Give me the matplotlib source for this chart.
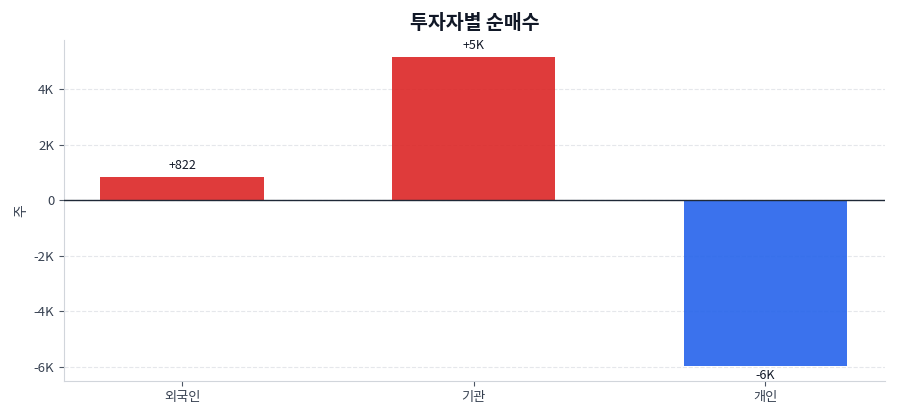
import matplotlib
matplotlib.use("Agg")
import matplotlib.pyplot as plt
from matplotlib.ticker import FuncFormatter

plt.rcParams['font.family'] = ['Noto Sans CJK KR', 'DejaVu Sans']

investors = ['외국인', '기관', '개인']
net_buy = [822, 5150, -5990]
bar_labels = ['+822', '+5K', '-6K']


def kfmt(v, pos):
    if v == 0:
        return '0'
    return '%dK' % round(v / 1000)


fig = plt.figure(figsize=(9, 4.2), dpi=100)
ax = fig.add_axes([0.071, 0.093, 0.912, 0.812])

colors = ['#dc2626' if v >= 0 else '#2563eb' for v in net_buy]
bars = ax.bar(range(len(investors)), net_buy, width=0.56, color=colors,
              alpha=0.9, zorder=3)

for b, v, lab in zip(bars, net_buy, bar_labels):
    x = b.get_x() + b.get_width() / 2
    if v >= 0:
        ax.annotate(lab, (x, v), xytext=(0, 4), textcoords='offset points',
                    ha='center', va='bottom', fontsize=9, color='#111827')
    else:
        ax.annotate(lab, (x, v), xytext=(0, -2), textcoords='offset points',
                    ha='center', va='top', fontsize=9, color='#111827')

ax.axhline(0, color='#1f2937', lw=1, zorder=4)
ax.set_xlim(-0.405, 2.41)
ax.set_ylim(-6520, 5770)
ax.set_yticks([-6000, -4000, -2000, 0, 2000, 4000])
ax.yaxis.set_major_formatter(FuncFormatter(kfmt))
ax.set_xticks(range(len(investors)))
ax.set_xticklabels(investors)

ax.grid(axis='y', ls='--', color='#e5e7eb', lw=0.8, zorder=0)
for s in ['top', 'right']:
    ax.spines[s].set_visible(False)
for s in ['left', 'bottom']:
    ax.spines[s].set_color('#d1d5db')
ax.tick_params(colors='#4b5563', labelsize=9.5, labelcolor='#374151')

ax.set_ylabel('주', fontsize=10, color='#374151')
ax.set_title('투자자별 순매수', fontsize=14, fontweight='bold', color='#111827', pad=8)

fig.savefig('out.png', dpi=100)
